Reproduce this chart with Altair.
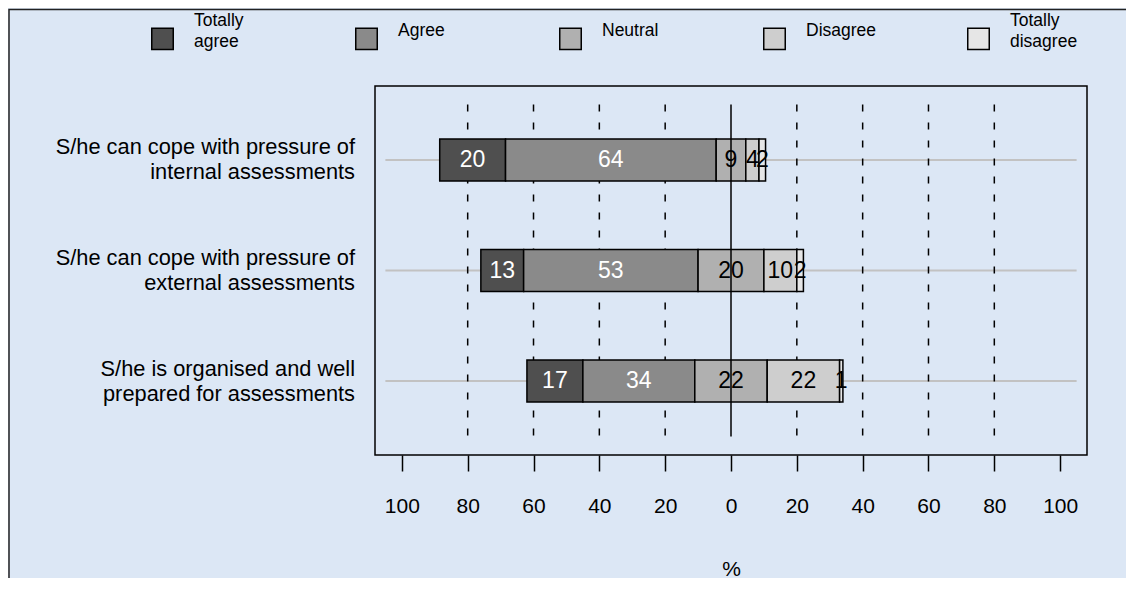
import altair as alt
import pandas as pd

categories = [
    "S/he can cope with pressure of\ninternal assessments",
    "S/he can cope with pressure of\nexternal assessments",
    "S/he is organised and well\nprepared for assessments",
]
responses = ["Totally agree", "Agree", "Neutral", "Disagree", "Totally disagree"]
totally_agree = [20, 13, 17]
agree = [64, 53, 34]
neutral = [9, 20, 22]
disagree = [4, 10, 22]
totally_disagree = [2, 2, 1]

colors = ["#4f4f4f", "#8a8a8a", "#b0b0b0", "#cecece", "#e6e6e6"]
text_colors = ["white", "white", "black", "black", "black"]
x_ticks = [-100, -80, -60, -40, -20, 0, 20, 40, 60, 80, 100]
grid_values = [-80, -60, -40, -20, 20, 40, 60, 80]

series = [totally_agree, agree, neutral, disagree, totally_disagree]
rows = []
for i, cat in enumerate(categories):
    vals = [s[i] for s in series]
    start = -(vals[0] + vals[1] + vals[2] / 2)
    for j, r in enumerate(responses):
        end = start + vals[j]
        rows.append(dict(category=cat, row=i + 1, response=r, value=vals[j],
                         start=start, end=end, mid=(start + end) / 2,
                         tcolor=text_colors[j]))
        start = end
df = pd.DataFrame(rows)
cat_df = pd.DataFrame({"category": categories, "row": list(range(1, len(categories) + 1))})
grid_df = pd.DataFrame({"x": grid_values, "y": 0.5, "y2": len(categories) + 0.5})
zero_df = pd.DataFrame({"x": [0], "y": [0.5], "y2": [len(categories) + 0.5]})

xscale = alt.Scale(domain=[-108.16, 108.16], nice=False, zero=False)
yscale = alt.Scale(domain=[0.377, 3.623], nice=False, zero=False, reverse=True)
xaxis = alt.Axis(values=x_ticks, labelExpr="abs(datum.value)", title="%",
                 domain=False, grid=False, tickColor="black", tickWidth=1.5,
                 tickSize=16, labelFontSize=21, labelColor="black", labelPadding=42,
                 titleFontSize=21, titleFontWeight="normal", titleColor="black",
                 titleY=120, titleBaseline="alphabetic")


def X(field):
    return alt.X(field, type="quantitative", scale=xscale, axis=xaxis)


def Y(field):
    return alt.Y(field, type="quantitative", scale=yscale, axis=None)


row_lines = alt.Chart(cat_df).transform_calculate(a="-105", b="105").mark_rule(
    color="#c2c2c2", strokeWidth=2
).encode(x=X("a"), x2="b:Q", y=Y("row"))

grid = alt.Chart(grid_df).mark_rule(
    color="black", strokeWidth=1.5, strokeDash=[7, 11]
).encode(x=X("x"), y=Y("y"), y2="y2:Q")

# three text lines per legend label so that one-line and two-line labels share one layout
label_expr = (
    "indexof(datum.label, 'Totally') == 0 "
    "? ['Totally', '\u200b', substring(datum.label, 8)] "
    ": ['\u200b', datum.label, '\u200b']"
)

bars = alt.Chart(df).mark_bar(size=42, stroke="black", strokeWidth=1.5).encode(
    x=X("start"), x2="end:Q", y=Y("row"),
    color=alt.Color("response:N", scale=alt.Scale(domain=responses, range=colors),
                    legend=alt.Legend(
                        title=None, orient="none", legendX=-224, legendY=-59,
                        direction="horizontal", columns=5, symbolType="square",
                        symbolSize=462, symbolStrokeColor="black",
                        symbolStrokeWidth=1.5, symbolOpacity=1,
                        labelFontSize=17.5, labelColor="black", labelOffset=20,
                        columnPadding=87, padding=0, gridAlign="all",
                        labelExpr=label_expr,
                    )),
)

zero = alt.Chart(zero_df).mark_rule(color="black", strokeWidth=1.5).encode(
    x=X("x"), y=Y("y"), y2="y2:Q")

values_text = alt.Chart(df).mark_text(fontSize=23, baseline="middle").encode(
    x=X("mid"), y=Y("row"), text="value:Q",
    color=alt.Color("tcolor:N", scale=None))

cat_text = alt.Chart(cat_df).mark_text(
    align="right", baseline="middle", lineBreak="\n", fontSize=21.8, lineHeight=25,
    dy=-12.5, color="black"
).encode(x=alt.value(-20), y=Y("row"), text="category:N")

# outer frame of the figure panel (its right and bottom edges fall outside the page)
panel_border = alt.Chart(alt.Data(values=[{}])).mark_rect(
    fill="transparent", stroke="#222222", strokeWidth=1.5
).encode(x=alt.value(-366), x2=alt.value(770), y=alt.value(-76.5), y2=alt.value(510))

chart = alt.layer(
    row_lines, grid, bars, zero, values_text, cat_text, panel_border
).properties(
    width=712, height=369,
    padding={"left": 367, "top": 78, "right": 39, "bottom": 123},
    autosize=alt.AutoSizeParams(type="none"),
).configure(
    background="#dce7f5", font="Liberation Sans",
    style={"guide-label": {"lineHeight": 10.5, "dy": -18}},
).configure_view(stroke="black", strokeWidth=1.5)

chart.save("out.html", embed_options={"renderer": "svg", "actions": False})
